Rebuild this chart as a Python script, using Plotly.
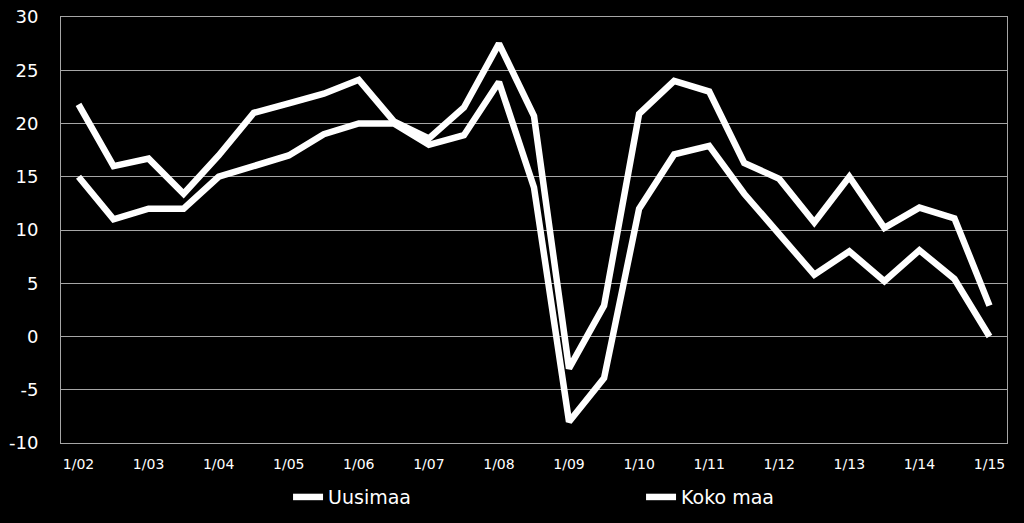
import plotly.graph_objects as go

# half-year observations, 1/02 ... 1/15
periods = ['1/02', '7/02', '1/03', '7/03', '1/04', '7/04', '1/05', '7/05', '1/06', '7/06',
           '1/07', '7/07', '1/08', '7/08', '1/09', '7/09', '1/10', '7/10', '1/11', '7/11',
           '1/12', '7/12', '1/13', '7/13', '1/14', '7/14', '1/15']
tick_labels = periods[::2]
y_ticks = [-10, -5, 0, 5, 10, 15, 20, 25, 30]

uusimaa = [21.8, 16.0, 16.7, 13.4, 17.0, 21.0, 21.9, 22.8, 24.1, 20.2,
           18.6, 21.5, 27.5, 20.7, -3.0, 2.9, 20.9, 24.0, 23.0, 16.3,
           14.8, 10.7, 15.0, 10.2, 12.1, 11.1, 2.9]
koko_maa = [15.0, 11.0, 12.0, 12.0, 15.0, 16.0, 17.0, 19.0, 20.0, 20.0,
            18.0, 18.9, 23.9, 14.0, -8.0, -3.9, 12.0, 17.1, 17.9, 13.4,
            9.5, 5.8, 8.0, 5.2, 8.1, 5.4, 0.0]

font = "DejaVu Sans"

fig = go.Figure()
fig.add_trace(go.Scatter(x=periods, y=uusimaa, name='Uusimaa', mode='lines',
                         line=dict(color='white', width=6.5)))
fig.add_trace(go.Scatter(x=periods, y=koko_maa, name='Koko maa', mode='lines',
                         line=dict(color='white', width=6.5)))

fig.update_layout(
    width=1024, height=523,
    paper_bgcolor='black', plot_bgcolor='black',
    margin=dict(l=61, r=17, t=17, b=80, autoexpand=False),
    font=dict(family=font, color='white'),
    showlegend=True,
    legend=dict(orientation='h', x=0.240, xanchor='left', y=-0.127, yanchor='middle',
                font=dict(size=19, color='white'), entrywidthmode='pixels', entrywidth=308,
                itemwidth=30, bgcolor='rgba(0,0,0,0)'),
)
fig.update_xaxes(type='category', range=[-0.5, 26.5], automargin=False,
                 tickmode='array', tickvals=tick_labels, ticktext=tick_labels,
                 tickfont=dict(size=14, color='white'),
                 showgrid=False, showline=True, linecolor='#a6a6a6', linewidth=1, mirror=True,
                 ticks='', ticklabelstandoff=8)
fig.update_yaxes(range=[-10, 30], automargin=False,
                 tickmode='array', tickvals=y_ticks, ticktext=[str(v) for v in y_ticks],
                 tickfont=dict(size=18, color='white'), ticklabeloverflow='allow',
                 showgrid=True, gridcolor='#a6a6a6', gridwidth=1,
                 showline=True, linecolor='#a6a6a6', linewidth=1, mirror=True,
                 zeroline=False, ticks='', ticklabelstandoff=18)

# drop the page's default body margin so the figure fills the window
fig.write_html("out.html", config={'displayModeBar': False},
               post_script="document.body.style.margin='0';document.body.style.background='black';")
